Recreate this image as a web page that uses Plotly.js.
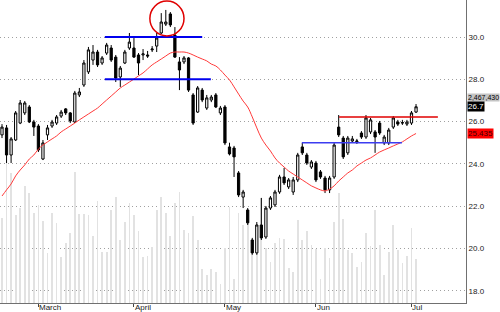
<!DOCTYPE html>
<html><head><meta charset="utf-8">
<script src="https://cdn.plot.ly/plotly-3.0.1.min.js"></script>
<style>html,body{margin:0;padding:0;background:#fff;}#chart{width:500px;height:312px;}</style>
</head><body><div id="chart"></div>
<script>
// trading-day candles (index 0 = first session shown)
const openP  = [25.37,25.70,24.42,25.13,25.93,26.41,26.69,25.98,25.79,24.23,
  25.37,25.79,25.93,26.26,26.60,26.41,25.98,27.26,27.73,28.35,
  28.91,29.29,28.77,29.24,29.48,29.05,28.11,28.77,29.48,29.48,
  29.15,29.15,29.15,29.39,29.57,30.19,30.61,31.09,30.09,28.82,
  28.82,29.01,27.26,26.45,27.49,26.64,27.02,27.26,26.41,26.69,
  24.80,24.75,23.57,22.43,21.82,20.40,19.79,21.11,20.54,21.91,
  22.06,22.67,23.38,22.91,22.67,23.24,24.80,24.42,23.85,24.04,
  23.62,23.33,22.77,23.38,25.74,25.22,24.52,25.08,25.04,25.46,
  25.27,25.51,25.51,25.93,24.99,24.99,25.74,25.98,25.93,25.88,
  25.93,26.45];
const highP  = [25.88,25.84,25.27,26.50,27.02,26.97,26.78,26.08,25.88,25.13,
  25.84,26.08,26.31,26.55,26.64,26.45,27.45,27.59,28.91,29.53,
  29.62,29.39,29.10,29.72,29.62,29.15,28.63,29.39,30.19,29.95,
  29.24,29.43,29.34,29.57,30.19,31.13,31.28,31.18,30.47,29.05,
  29.10,29.05,27.35,27.68,27.59,27.26,27.26,27.35,26.74,26.78,
  25.00,24.85,23.66,22.77,21.91,20.50,21.25,22.39,22.01,22.48,
  22.77,23.48,23.81,23.33,23.38,24.52,24.99,24.52,24.18,24.14,
  23.71,23.43,23.43,24.99,26.31,25.32,25.32,25.32,25.18,25.55,
  26.31,26.17,25.60,26.03,25.37,25.70,26.26,26.08,26.08,26.08,
  26.50,26.83];
const lowP   = [25.22,24.04,24.04,25.08,25.88,26.31,25.93,25.32,24.56,24.18,
  25.13,25.70,25.84,26.17,26.31,25.93,25.93,27.16,27.64,28.25,
  28.68,28.58,28.68,29.15,28.82,27.87,27.64,28.72,29.39,29.01,
  28.20,28.91,29.01,29.29,29.29,30.14,30.52,30.47,29.01,27.49,
  28.72,27.40,25.84,26.41,26.92,26.55,26.92,26.64,26.31,24.89,
  24.40,23.38,22.43,21.91,21.11,19.70,19.70,20.40,20.45,21.82,
  21.96,22.58,23.00,22.81,22.53,23.14,24.42,23.95,23.76,23.14,
  23.29,22.62,22.62,23.29,25.27,24.23,24.42,24.99,24.94,25.18,
  25.18,25.41,24.52,25.37,24.89,24.89,25.65,25.79,25.84,25.79,
  25.84,26.41];
const closeP = [25.74,24.42,25.18,26.41,26.88,26.88,25.98,25.74,24.66,24.99,
  25.70,25.98,26.22,26.45,26.41,26.03,27.35,27.40,28.77,29.39,
  29.29,28.68,29.01,29.62,28.91,28.06,28.53,29.29,29.76,29.05,
  28.77,29.20,29.10,29.43,29.95,30.71,30.71,30.57,29.05,28.44,
  29.01,27.49,25.93,27.59,27.02,27.12,27.16,26.69,26.64,24.99,
  24.47,24.33,22.53,22.67,21.21,19.79,21.11,20.50,21.91,22.39,
  22.67,23.38,23.10,23.24,23.24,24.42,24.52,24.04,24.09,23.24,
  23.38,22.77,23.33,24.89,25.37,24.33,25.22,25.18,25.08,25.27,
  26.17,26.08,25.27,25.46,25.27,25.60,26.17,25.88,25.95,25.98,
  26.41,26.70];
const volume = [4766600,8019000,7290000,4935000,5327000,6561000,6169000,5047000,5496000,4598000,
  2804000,5047000,4486000,2580000,3365000,3925000,7346000,4991000,4991000,4935000,
  3757000,5720000,2860000,2860000,5215000,5944000,3533000,4542000,5608000,4935000,
  4038000,2580000,2636000,3140000,5215000,5944000,5047000,3757000,5608000,6225000,
  4094000,3925000,4879000,3533000,1907000,1570000,1907000,1738000,1065000,3084000,
  5383000,1346000,5047000,4374000,5215000,3477000,3813000,5888000,3084000,2299000,
  3365000,3645000,3589000,1963000,1738000,4654000,3533000,4038000,3253000,3028000,
  1346000,3084000,2524000,4542000,6169000,4711000,2972000,2804000,2019000,2299000,
  3925000,3196000,5215000,3253000,1570000,2860000,4374000,2972000,2243000,2636000,
  4206000,2467430];
const movingAvg = [22.48,22.77,23.05,23.43,23.71,23.95,24.23,24.42,24.70,24.89,
  25.04,25.18,25.32,25.51,25.65,25.79,25.93,26.08,26.22,26.36,
  26.50,26.64,26.83,27.02,27.21,27.40,27.59,27.73,27.87,28.01,
  28.16,28.30,28.49,28.68,28.82,28.96,29.10,29.24,29.29,29.29,
  29.29,29.24,29.15,29.05,28.96,28.87,28.72,28.63,28.44,28.20,
  27.97,27.64,27.30,26.97,26.69,26.22,25.70,25.22,24.89,24.61,
  24.28,24.04,23.85,23.66,23.52,23.38,23.24,23.10,22.96,22.86,
  22.77,22.72,22.81,22.96,23.19,23.38,23.57,23.71,23.90,24.04,
  24.18,24.28,24.42,24.56,24.66,24.75,24.85,24.94,25.04,25.18,
  25.32,25.435];
const monthTicks  = [8, 29, 49, 69, 90];
const monthLabels = ["March", "April", "May", "Jun", "Jul"];
// horizontal trend levels: price, first and last session index
const levelPrice = [30.0, 28.0, 25.0, 26.22];
const levelStart = [22.6, 22.6, 65.9, 74.1];
const levelEnd   = [44.0, 45.9, 87.9, 95.8];
// highlighted top: session range and price range
const circleDays  = [32.5, 40.0];
const circlePrice = [30.05, 31.70];
const lastClose = 26.7, lastAvg = 25.435;

const days = openP.map((_, i) => i);
const levelStyle = [
  {color:'#0000ee', width:2}, {color:'#0000ee', width:2},
  {color:'#3c3cf0', width:1.5}, {color:'#e00000', width:1.5}
];

const traces = [
  {type:'bar', x:days, y:volume, xaxis:'x', yaxis:'y', width:0.38,
   marker:{color:'#e2e2e2', line:{width:0}}, hoverinfo:'skip'},
  {type:'candlestick', x:days, open:openP, high:highP, low:lowP, close:closeP,
   xaxis:'x', yaxis:'y2', whiskerwidth:0, hoverinfo:'skip',
   increasing:{line:{color:'#000', width:1}, fillcolor:'#ffffff'},
   decreasing:{line:{color:'#000', width:1}, fillcolor:'#000000'}},
  {type:'scatter', mode:'lines', x:days, y:movingAvg, xaxis:'x', yaxis:'y2',
   line:{color:'#ff3a3a', width:1, shape:'spline'}, hoverinfo:'skip'}
];

const shapes = levelPrice.map((p, k) => ({
  type:'line', xref:'x', yref:'y2', x0:levelStart[k], x1:levelEnd[k], y0:p, y1:p,
  line:levelStyle[k], layer:'above'}));
shapes.push({type:'circle', xref:'x', yref:'y2', x0:circleDays[0], x1:circleDays[1],
  y0:circlePrice[0], y1:circlePrice[1], line:{color:'#e00000', width:1.5}, layer:'above'});

const labFont = {family:'Arial, "Liberation Sans", sans-serif', size:8, color:'#222'};
const annotations = monthLabels.map((t, k) => ({
  xref:'x', yref:'paper', x:monthTicks[k], y:0, xanchor:'left', yanchor:'top',
  text:t, showarrow:false, font:labFont, xshift:0, yshift:1, borderpad:0}));
annotations.push(
  {xref:'paper', yref:'y2', x:1, y:lastClose, xanchor:'left', yanchor:'middle', xshift:1, yshift:9,
   text:volume[volume.length-1].toLocaleString('en-US'), showarrow:false, bgcolor:'#c4c4c4',
   font:{family:labFont.family, size:7, color:'#000'}, borderpad:0},
  {xref:'paper', yref:'y2', x:1, y:lastClose, xanchor:'left', yanchor:'middle', xshift:1,
   text:String(lastClose), showarrow:false, bgcolor:'#000000',
   font:{family:labFont.family, size:8, color:'#fff'}, borderpad:0},
  {xref:'paper', yref:'y2', x:1, y:lastAvg, xanchor:'left', yanchor:'middle', xshift:1,
   text:String(lastAvg), showarrow:false, bgcolor:'#ff0000',
   font:{family:labFont.family, size:8, color:'#400000'}, borderpad:0}
);

const layout = {
  width:500, height:312, margin:{l:0, r:34, t:0, b:9, pad:0},
  paper_bgcolor:'#ffffff', plot_bgcolor:'#ffffff', showlegend:false,
  bargap:0,
  xaxis:{range:[-0.44, 101.98], rangeslider:{visible:false}, showgrid:false, zeroline:false,
    showline:true, linecolor:'#707070', linewidth:1, ticks:'outside', ticklen:3,
    tickcolor:'#444', tickvals:monthTicks, showticklabels:false, fixedrange:true},
  yaxis:{range:[0, 16991634], visible:false, showgrid:false, zeroline:false, fixedrange:true},
  yaxis2:{overlaying:'y', side:'right', anchor:'x', range:[17.42, 31.75], tick0:18, dtick:2,
    tickformat:'.1f', showgrid:true, gridcolor:'#a0a0a0', griddash:'1px,3px', gridwidth:1,
    zeroline:false, showline:true, linecolor:'#707070', linewidth:1, ticks:'',
    tickfont:labFont, fixedrange:true},
  shapes:shapes, annotations:annotations
};

Plotly.newPlot('chart', traces, layout, {staticPlot:true, displayModeBar:false});
</script>
</body></html>
